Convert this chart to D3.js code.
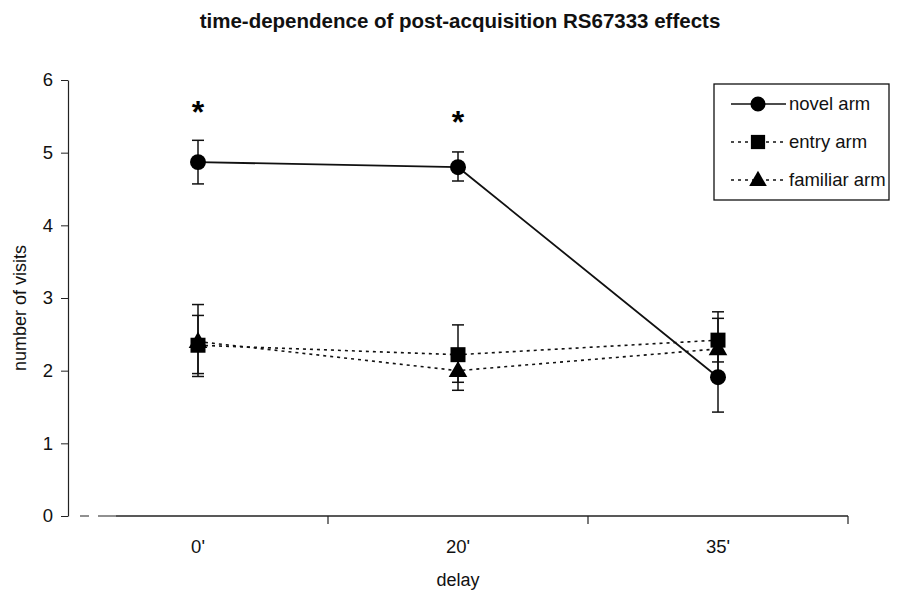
<!DOCTYPE html>
<html><head><meta charset="utf-8">
<script src="https://cdn.jsdelivr.net/npm/d3@7/dist/d3.min.js"></script>
<style>body{margin:0;background:#fff}svg{display:block}text{font-family:"Liberation Sans",Arial,sans-serif}</style>
</head><body><svg id="c" width="916" height="591"></svg>
<script>
const categories = ["0'", "20'", "35'"];
const novelMean = [4.87, 4.80, 1.91];
const novelUp   = [0.30, 0.21, 0.48];
const novelDown = [0.30, 0.19, 0.48];
const entryMean = [2.35, 2.22, 2.42];
const entryUp   = [0.41, 0.41, 0.39];
const entryDown = [0.39, 0.38, 0.30];
const familiarMean = [2.40, 2.00, 2.30];
const familiarUp   = [0.51, 0.20, 0.42];
const familiarDown = [0.48, 0.27, 0.40];
const starCats = ["0'", "20'"];
const starValues = [5.62, 5.48];
const yTicks = [0, 1, 2, 3, 4, 5, 6];
const seriesNames = ["novel arm", "entry arm", "familiar arm"];

const svg = d3.select("#c");
const L = 68, R = 848, T = 80, B = 516;
const FONT = "Liberation Sans, Arial, sans-serif";
const x = d3.scaleBand().domain(categories).range([L, R]);
const y = d3.scaleLinear().domain([0, 6]).range([B, T]);

svg.append("text").attr("x", 460).attr("y", 28).attr("text-anchor", "middle")
  .attr("font-size", 20.5).attr("font-weight", "bold").attr("fill", "#111")
  .text("time-dependence of post-acquisition RS67333 effects");

// y axis
const ya = svg.append("g").attr("transform", `translate(${L},0)`)
  .call(d3.axisLeft(y).tickValues(yTicks).tickFormat(d3.format("d")).tickSize(7).tickSizeOuter(0).tickPadding(8));
ya.select(".domain").attr("stroke", "#222").attr("stroke-width", 1.2);
ya.selectAll(".tick line").attr("stroke", "#222");
ya.selectAll("text").attr("font-size", 18.5).attr("fill", "#111").attr("font-family", FONT);

// x axis
const xa = svg.append("g").attr("transform", `translate(0,${B})`)
  .call(d3.axisBottom(x).tickSize(0).tickPadding(24));
xa.select(".domain").remove();
xa.selectAll("text").attr("font-size", 18.5).attr("fill", "#111").attr("font-family", FONT);
svg.append("line").attr("x1", L).attr("x2", L + 48).attr("y1", B).attr("y2", B)
  .attr("stroke", "#222").attr("stroke-width", 1.2).attr("stroke-dasharray", "0,12,9,9,9");
svg.append("line").attr("x1", L + 48).attr("x2", R).attr("y1", B).attr("y2", B)
  .attr("stroke", "#222").attr("stroke-width", 1.4);
svg.append("g").selectAll("line").data(categories).join("line")
  .attr("x1", d => x(d) + x.bandwidth()).attr("x2", d => x(d) + x.bandwidth())
  .attr("y1", B).attr("y2", B + 8).attr("stroke", "#222").attr("stroke-width", 1.2);

svg.append("text").attr("transform", `translate(26,${(T + B) / 2 + 10}) rotate(-90)`)
  .attr("text-anchor", "middle").attr("font-size", 18).attr("fill", "#111").text("number of visits");
svg.append("text").attr("x", x(categories[1]) + x.bandwidth() / 2).attr("y", 586)
  .attr("text-anchor", "middle").attr("font-size", 18).attr("fill", "#111").text("delay");

const cx = d => x(d) + x.bandwidth() / 2;
const series = [
  {name: seriesNames[0], mean: novelMean, up: novelUp, down: novelDown, dash: null, shape: d3.symbolCircle, size: 200},
  {name: seriesNames[1], mean: entryMean, up: entryUp, down: entryDown, dash: "3,4", shape: d3.symbolSquare, size: 225},
  {name: seriesNames[2], mean: familiarMean, up: familiarUp, down: familiarDown, dash: "3,4", shape: d3.symbolTriangle, size: 150}
];

const line = d3.line().x((d, i) => cx(categories[i])).y(d => y(d));
// error bars
series.forEach(s => {
  const g = svg.append("g");
  categories.forEach((c, i) => {
    const x0 = cx(c), yt = y(s.mean[i] + s.up[i]), yb = y(s.mean[i] - s.down[i]);
    g.append("line").attr("x1", x0).attr("x2", x0).attr("y1", yt).attr("y2", yb).attr("stroke", "#111").attr("stroke-width", 1.5);
    [yt, yb].forEach(yy => g.append("line").attr("x1", x0 - 6).attr("x2", x0 + 6).attr("y1", yy).attr("y2", yy).attr("stroke", "#111").attr("stroke-width", 1.5));
  });
});
// lines
series.slice().reverse().forEach(s => {
  svg.append("path").datum(s.mean).attr("d", line).attr("fill", "none")
    .attr("stroke", "#111").attr("stroke-width", s.dash ? 1.6 : 1.8)
    .attr("stroke-dasharray", s.dash);
});
// markers
series.slice().reverse().forEach(s => {
  svg.append("g").selectAll("path").data(s.mean).join("path")
    .attr("transform", (d, i) => `translate(${cx(categories[i])},${y(d) + (s.shape === d3.symbolTriangle ? 1 : 0)})`)
    .attr("d", d3.symbol().type(s.shape).size(s.size)).attr("fill", "#000");
});
// stars
svg.append("g").selectAll("text").data(starValues).join("text")
  .attr("x", (d, i) => cx(starCats[i])).attr("y", d => y(d) + 15)
  .attr("text-anchor", "middle").attr("font-size", 32).attr("font-weight", "bold").attr("fill", "#000").text("*");

// legend
const lg = svg.append("g");
lg.append("rect").attr("x", 714).attr("y", 84).attr("width", 175).attr("height", 116)
  .attr("fill", "#fff").attr("stroke", "#111").attr("stroke-width", 1.3);
series.forEach((s, i) => {
  const yy = 104 + i * 38;
  lg.append("line").attr("x1", 731).attr("x2", 786).attr("y1", yy).attr("y2", yy)
    .attr("stroke", "#111").attr("stroke-width", 1.6).attr("stroke-dasharray", s.dash);
  lg.append("path").attr("transform", `translate(758,${yy + (s.shape === d3.symbolTriangle ? 1 : 0)})`)
    .attr("d", d3.symbol().type(s.shape).size(s.size * 0.9)).attr("fill", "#000");
  lg.append("text").attr("x", 789).attr("y", yy + 6).attr("font-size", 18.5).attr("fill", "#111").text(s.name);
});
</script></body></html>
